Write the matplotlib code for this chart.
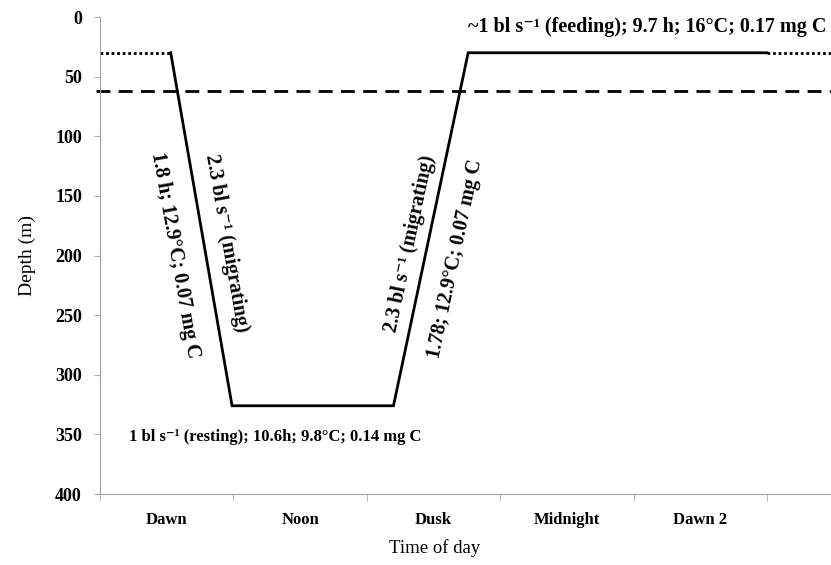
import matplotlib
matplotlib.use("Agg")
import matplotlib.pyplot as plt

# categories on the time axis
categories = ["Dawn", "Noon", "Dusk", "Midnight", "Dawn 2"]

# migration path (x in category units, depth in m)
path_x = [0.03, 0.49, 1.70, 2.26, 4.5]
path_depth = [30, 326, 326, 30, 30]

# dotted extensions outside the recorded cycle
dot_left_x = [-0.5, 0.03]
dot_right_x = [4.5, 4.98]
surface_depth = 30

# dashed reference depth
ref_depth = 62

yticks = [0, 50, 100, 150, 200, 250, 300, 350, 400]

serif = ["Liberation Serif", "DejaVu Serif"]
plt.rcParams["font.family"] = serif

fig = plt.figure(figsize=(8.31, 5.65), dpi=100)
ax = fig.add_axes([100 / 831, 1 - 494 / 565, 731 / 831, 477 / 565])

ax.plot(path_x, path_depth, color="black", lw=2.0, solid_joinstyle="miter")
ax.plot(dot_left_x, [surface_depth] * 2, color="black", lw=2.0, ls=(0, (1, 1)))
ax.plot(dot_right_x, [surface_depth] * 2, color="black", lw=2.0, ls=(0, (1, 1)))
ax.plot([-0.53, 4.98], [ref_depth] * 2, color="black", lw=2.0,
        ls=(0, (5, 3)), clip_on=False)

ax.set_xlim(-0.5, 4.98)
ax.set_ylim(400, 0)

ax.set_yticks(yticks)
ax.set_yticklabels([str(v) for v in yticks], fontweight="bold", fontsize=13)
ax.set_xticks(range(len(categories)))
ax.set_xticklabels(categories, fontweight="bold", fontsize=12)
ax.set_xticks([i - 0.5 for i in range(len(categories) + 1)], minor=True)
ax.tick_params(axis="x", which="major", length=0, pad=13)
ax.tick_params(axis="x", which="minor", length=5, color="#b0b0b0", direction="out")
ax.tick_params(axis="y", length=4, color="#b0b0b0", direction="out", pad=9)

for s in ["top", "right"]:
    ax.spines[s].set_visible(False)
ax.spines["left"].set_color("#a0a0a0")
ax.spines["bottom"].set_color("#a0a0a0")

ax.set_ylabel("Depth (m)", fontsize=14, labelpad=14)
ax.set_xlabel("Time of day", fontsize=13.5)
ax.xaxis.set_label_coords(335 / 731, -0.095)

bold = dict(fontweight="bold", family=serif)
ax.text(4.95, 8, "~1 bl s\u207b\u00b9 (feeding); 9.7 h; 16\u00b0C; 0.17 mg C",
        ha="right", va="center", fontsize=14.5, **bold)
ax.text(0.81, 352, "1 bl s\u207b\u00b9 (resting); 10.6h; 9.8\u00b0C; 0.14 mg C",
        ha="center", va="center", fontsize=12, **bold)
ax.text(0.06, 200, "1.8 h; 12.9\u00b0C; 0.07 mg C", rotation=-80,
        ha="center", va="center", fontsize=14.5, rotation_mode="anchor", **bold)
ax.text(0.45, 190, "2.3 bl s\u207b\u00b9 (migrating)", rotation=-80,
        ha="center", va="center", fontsize=14.5, rotation_mode="anchor", **bold)
ax.text(1.82, 190, "2.3 bl s\u207b\u00b9 (migrating)", rotation=78,
        ha="center", va="center", fontsize=14.5, rotation_mode="anchor", **bold)
ax.text(2.16, 203, "1.78; 12.9\u00b0C; 0.07 mg C", rotation=78,
        ha="center", va="center", fontsize=14.5, rotation_mode="anchor", **bold)

fig.savefig("out.png", dpi=100)
